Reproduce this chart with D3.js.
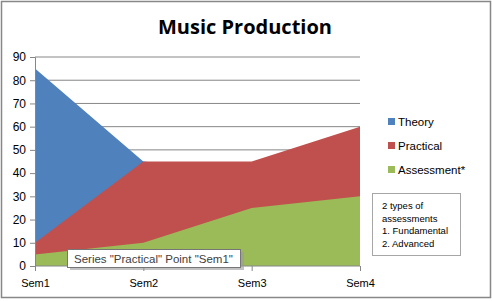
<!DOCTYPE html>
<html><head><meta charset="utf-8">
<script src="https://cdn.jsdelivr.net/npm/d3@7"></script>
<style>body{margin:0;background:#fff}svg{display:block}</style>
</head><body>
<svg id="c" width="492" height="301"></svg>
<script>
const categories = ["Sem1", "Sem2", "Sem3", "Sem4"];
const theory = [85, 45, 40, 50];
const practical = [10, 45, 45, 60];
const assessment = [5, 10, 25, 30];
const yTicks = [0, 10, 20, 30, 40, 50, 60, 70, 80, 90];
const seriesNames = ["Theory", "Practical", "Assessment*"];
const colors = ["#4F81BD", "#C0504D", "#9BBB59"];
const noteLines = ["2 types of", "assessments", "1. Fundamental", "2. Advanced"];
const tooltipText = 'Series "Practical" Point "Sem1"';

const svg = d3.select("#c");
const font = "'Liberation Sans', Arial, sans-serif";

svg.append("rect").attr("x", 1.5).attr("y", 1.5).attr("width", 489).attr("height", 296)
  .attr("fill", "#fff").attr("stroke", "#878787").attr("stroke-width", 1.5);

svg.append("text").attr("x", 245).attr("y", 34).attr("text-anchor", "middle")
  .attr("font-family", "'Open Sans', sans-serif").attr("font-weight", "bold").attr("font-size", 20)
  .attr("fill", "#000").text("Music Production");

const x = d3.scalePoint().domain(categories).range([35, 360]);
const y = d3.scaleLinear().domain([0, 90]).range([266, 57]);

// gridlines
svg.append("g").selectAll("line").data(yTicks.filter(d => d > 0)).join("line")
  .attr("x1", 35).attr("x2", 360).attr("y1", d => y(d)).attr("y2", d => y(d))
  .attr("stroke", "#868686").attr("stroke-width", 1);

const area = d3.area().x((d, i) => x(categories[i])).y0(y(0)).y1(d => y(d));
[theory, practical, assessment].forEach((s, k) => {
  svg.append("path").datum(s).attr("d", area).attr("fill", colors[k]);
});

// y axis
const ya = svg.append("g").attr("transform", "translate(35,0)")
  .call(d3.axisLeft(y).tickValues(yTicks).tickSize(5).tickPadding(4));
ya.select(".domain").attr("stroke", "#868686");
ya.selectAll(".tick line").attr("stroke", "#868686");
ya.selectAll("text").attr("font-family", font).attr("font-size", 12).attr("fill", "#000");

// x axis
const xa = svg.append("g").attr("transform", `translate(0,${y(0)})`)
  .call(d3.axisBottom(x).tickSize(5).tickPadding(8));
xa.select(".domain").attr("stroke", "#868686").attr("d", "M35,0H360");
xa.selectAll(".tick line").attr("stroke", "#868686");
xa.selectAll("text").attr("font-family", font).attr("font-size", 11).attr("fill", "#000");

// legend
const lg = svg.append("g");
seriesNames.forEach((n, i) => {
  const yy = 122 + i * 24;
  lg.append("rect").attr("x", 388).attr("y", yy - 4).attr("width", 7).attr("height", 7).attr("fill", colors[i]);
  lg.append("text").attr("x", 398).attr("y", yy + 4).attr("font-family", font).attr("font-size", 11.5)
    .attr("fill", "#000").text(n);
});

// note box
svg.append("rect").attr("x", 372.5).attr("y", 193.5).attr("width", 88).attr("height", 62)
  .attr("fill", "#fff").attr("stroke", "#a6a6a6");
noteLines.forEach((t, i) => {
  svg.append("text").attr("x", 382).attr("y", 209 + i * 12.7).attr("font-family", font)
    .attr("font-size", 9.5).attr("fill", "#000").text(t);
});

// tooltip
svg.append("rect").attr("x", 70).attr("y", 252).attr("width", 174).attr("height", 18).attr("fill", "#9a9a9a").attr("opacity", 0.6);
svg.append("rect").attr("x", 67.5).attr("y", 249.5).attr("width", 173).attr("height", 18)
  .attr("fill", "#fff").attr("stroke", "#767676");
svg.append("text").attr("x", 74).attr("y", 263).attr("font-family", font).attr("font-size", 11.5)
  .attr("fill", "#404040").text(tooltipText);
</script>
</body></html>
